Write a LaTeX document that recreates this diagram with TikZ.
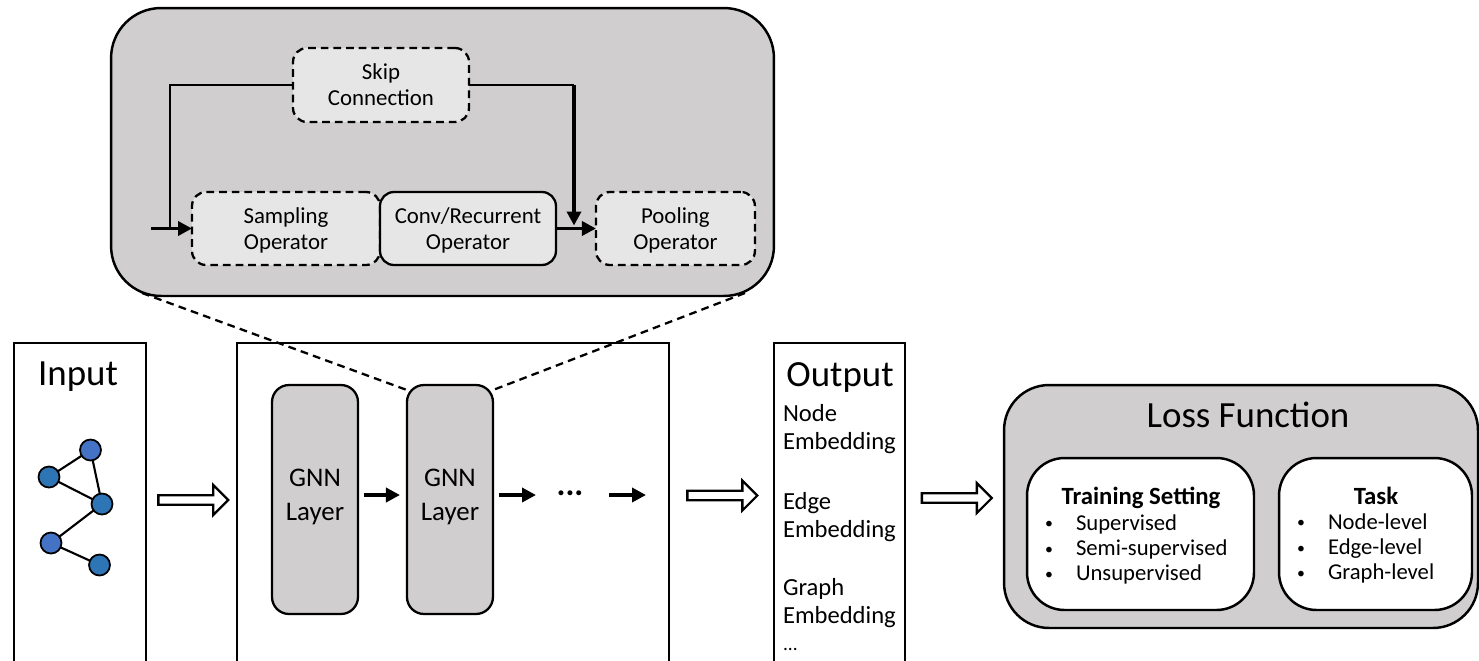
\documentclass[tikz,border=0pt]{standalone}
\usepackage{fontspec}
\setmainfont{Carlito}
\usepackage{xcolor}
\usetikzlibrary{shapes.geometric, shapes.arrows, arrows.meta, positioning}
\definecolor{panelgray}{HTML}{D0CECE}
\definecolor{oplight}{HTML}{E7E6E6}
\definecolor{nodeblue}{HTML}{4472C4}
\definecolor{nodeteal}{HTML}{2E75B6}
\tikzset{every node/.style={outer sep=0pt},
         stagebox/.style={rectangle,draw,line width=1.3pt,anchor=north west,minimum height=6.8cm,inner sep=0pt},
         bigpanel/.style={rectangle,draw,line width=1.4pt,fill=panelgray,inner sep=0pt},
         whitepanel/.style={rectangle,draw,line width=1.4pt,fill=white,rounded corners=0.75cm,minimum height=3.04cm,inner sep=0pt},
         gnnlayer/.style={rectangle,draw,line width=1.3pt,fill=panelgray,rounded corners=0.34cm,minimum width=1.72cm,minimum height=4.58cm,align=center,inner sep=0pt,font=\fontsize{15.3}{19.4}\selectfont},
         opbox/.style={rectangle,draw,line width=1.3pt,fill=oplight,rounded corners=0.28cm,minimum height=1.46cm,align=center,inner sep=0pt,font=\fontsize{13}{14.8}\selectfont},
         optional/.style={opbox,dashed,dash pattern=on 4.4pt off 2.8pt},
         bigtitle/.style={inner sep=0pt,font=\fontsize{21}{25}\selectfont},
         embedtext/.style={anchor=west,align=left,inner sep=0pt,font=\fontsize{14}{16}\selectfont},
         listhead/.style={inner sep=0pt,font=\fontsize{14.1}{15}\selectfont\bfseries},
         listtext/.style={anchor=north west,align=left,inner sep=0pt,font=\fontsize{12.9}{14.3}\selectfont},
         graphnode/.style={circle,draw,line width=1pt,minimum size=0.42cm,inner sep=0pt},
         graphedge/.style={line width=1.2pt},
         blockarrow/.style={single arrow,draw,line width=1.3pt,fill=white,minimum width=0.6cm,minimum height=1.4cm,single arrow head extend=0.05cm,single arrow head indent=0pt,inner sep=0pt},
         thinline/.style={line width=1.3pt},
         arrow/.style={-{Stealth[length=2.8mm,width=2.8mm,inset=0pt]},line width=2pt},
         zoomline/.style={dashed,dash pattern=on 4.4pt off 3pt,line width=1.3pt}}
\newcommand{\itemgap}{\makebox[0.62cm][l]{\fontsize{9}{9}\selectfont\raisebox{1pt}{\textbullet}}}
\newcommand{\firstline}{\rule{0pt}{11pt}}
\begin{document}
\begin{tikzpicture}[x=0.02cm,y=-0.02cm]
    \clip (0,0) rectangle (1479,660);
    % Zoomed view of one layer
    \node (zoomview) [bigpanel, rounded corners=1cm, minimum width=13.26cm, minimum height=5.76cm] at (442.5,152) {};
    \node (skip) [optional, minimum width=3.52cm, minimum height=1.48cm] at (381,85) {Skip\\Connection};
    \node (sampling) [optional, minimum width=3.76cm] at (286,228.5) {\firstline Sampling\\Operator};
    \node (conv) [opbox, right=0pt of sampling, minimum width=3.52cm] {\firstline Conv/Recurrent\\Operator};
    \node (pooling) [optional, right=0.8cm of conv, minimum width=3.18cm] {\firstline Pooling\\Operator};
    \coordinate (entry) at (151,228.5);
    \coordinate (skipleft) at (170,228.5);
    \coordinate (skipdrop) at (574,85);
    \coordinate (zoomleft) at (142,293);
    \coordinate (zoomright) at (745,293);
    \coordinate (row) at (0,495);
    % Stages along the bottom
    \node (input) [stagebox, minimum width=2.64cm] at (14,343) {};
    \node (model) [stagebox, minimum width=8.64cm] at (237,343) {};
    \node (output) [stagebox, minimum width=2.62cm] at (774,343) {};
    \node (inputtitle) [bigtitle] at (78,377) {Input};
    \node (outputtitle) [bigtitle] at (840,377) {Output};
    % Input graph
    \node (g1) [graphnode, fill=nodeblue] at (90.5,450) {};
    \node (g2) [graphnode, fill=nodeteal] at (49,477) {};
    \node (g3) [graphnode, fill=nodeteal] at (102,504) {};
    \node (g4) [graphnode, fill=nodeblue] at (51,543) {};
    \node (g5) [graphnode, fill=nodeteal] at (99.5,565) {};
    \draw[graphedge] (g1) -- (g2);
    \draw[graphedge] (g2) -- (g3);
    \draw[graphedge] (g1) -- (g3);
    \draw[graphedge] (g3) -- (g4);
    \draw[graphedge] (g4) -- (g5);
    % GNN layers
    \node (gnn1) [gnnlayer] at (315,499.5) {GNN\\Layer\rule[-5pt]{0pt}{0pt}};
    \node (gnn2) [gnnlayer, right=0.98cm of gnn1] {GNN\\Layer\rule[-5pt]{0pt}{0pt}};
    \node (dots) [inner sep=0pt, font=\fontsize{19}{20}\selectfont\bfseries] at (570,493) {...};
    \coordinate (rowend) at (646,495);
    \draw[arrow, shorten <=6*0.02cm, shorten >=7*0.02cm] (gnn1.east |- row) -- (gnn2.west |- row);
    \draw[arrow, shorten <=6*0.02cm] (gnn2.east |- row) -- (536,495);
    \draw[arrow] (609,495) -- (rowend);
    % Output text
    \node (outnode) [embedtext] at (783,429) {Node\\Embedding};
    \node (outedge) [embedtext] at (783,517) {Edge\\Embedding};
    \node (outgraph) [embedtext] at (783,603) {Graph\\Embedding};
    \node (outdots) [embedtext, font=\fontsize{11}{12}\selectfont] at (783,649) {...};
    % Loss function
    \node (loss) [bigpanel, rounded corners=0.9cm, minimum width=9.48cm, minimum height=4.86cm] at (1241,506.5) {};
    \node (losstitle) [bigtitle] at (1248,415) {Loss Function};
    \node (training) [whitepanel, minimum width=4.54cm] at (1140.5,534) {};
    \node (task) [whitepanel, minimum width=3.86cm] at (1375.5,534) {};
    \node (traininghead) [listhead] at (1141,498) {Training Setting};
    \node (trainingitems) [listtext] at (1045,515) {\itemgap Supervised\\\itemgap Semi-supervised\\\itemgap Unsupervised};
    \node (taskhead) [listhead] at (1376,496) {Task};
    \node (taskitems) [listtext] at (1297,514) {\itemgap Node-level\\\itemgap Edge-level\\\itemgap Graph-level};
    % Block arrows between stages
    \node (flow1) [blockarrow] at (191,500) {};
    \node (flow2) [blockarrow] at (720,495.5) {};
    \node (flow3) [blockarrow] at (954.5,498) {};
    % Connectors of the zoomed view
    \draw[thinline] (skip.west) -| (skipleft);
    \draw[arrow] (entry) -- (sampling.west);
    \draw[thinline] (skip.east) -- (skipdrop);
    \draw[arrow, shorten >=3*0.02cm] (skipdrop) -- (skipdrop |- conv.east);
    \draw[arrow] (conv.east) -- (pooling.west);
    % Dashed lines from the layer up to its zoomed view
    \draw[zoomline] (zoomleft) -- ([yshift=-0.1cm]gnn2.north west);
    \draw[zoomline] (zoomright) -- ([yshift=-0.1cm]gnn2.north east);
\end{tikzpicture}
\end{document}
